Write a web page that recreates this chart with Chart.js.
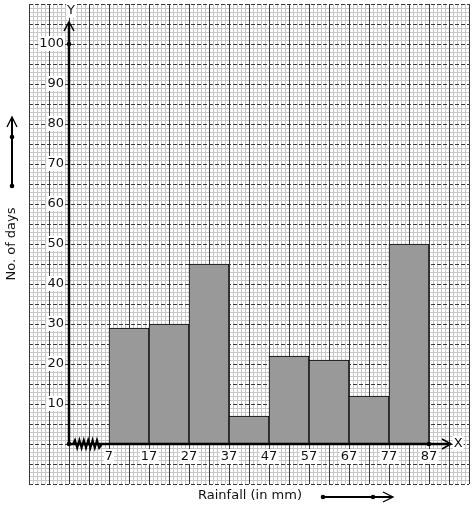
<!DOCTYPE html>
<html>
<head>
<meta charset="utf-8">
<script src="https://cdn.jsdelivr.net/npm/chart.js@4.4.0/dist/chart.umd.min.js"></script>
<style>
  html, body { margin: 0; padding: 0; background: #fff; }
  canvas { display: block; }
</style>
</head>
<body>
<canvas id="histo" width="474" height="510"></canvas>
<script>
// rainfall classes (lower limits) and number of days
const classStarts = [7, 17, 27, 37, 47, 57, 67, 77];
const classWidth = 10;
const days = [29, 30, 45, 7, 22, 21, 12, 50];
const xTickLabels = ['7', '17', '27', '37', '47', '57', '67', '77', '87'];
const yTickLabels = ['10', '20', '30', '40', '50', '60', '70', '80', '90', '100'];
const xTitle = 'Rainfall (in mm)';
const yTitle = 'No. of days';

const breakGap = 10; // axis units between origin and first class (kink)
const FONT = '13px "DejaVu Sans", sans-serif';

// rainfall value -> position on the axis after the break
function xpos(v){
    return v - classStarts[0] + breakGap;
}

const barData = classStarts.map((s, i) => {
    return { x: xpos(s + classWidth / 2), y: days[i] };
});

function labelBox(ctx, text, x, y, align){
    ctx.font = FONT;
    const w = ctx.measureText(text).width;
    let left = x - w / 2;
    if(align === 'right') left = x - w;
    ctx.fillStyle = '#fff';
    ctx.fillRect(left - 1, y - 8, w + 2, 15);
    ctx.fillStyle = '#111';
    ctx.textAlign = 'left';
    ctx.textBaseline = 'middle';
    ctx.fillText(text, left, y);
}

function dot(ctx, x, y){
    ctx.beginPath();
    ctx.arc(x, y, 2.3, 0, Math.PI * 2);
    ctx.fill();
}

const graphPaper = {
    id: 'graphPaper',
    beforeDatasetsDraw(chart){
        const ctx = chart.ctx;
        const xs = chart.scales.x, ys = chart.scales.y;
        const a = chart.chartArea;
        ctx.save();
        // minor lines
        ctx.strokeStyle = '#c8c8c8';
        ctx.lineWidth = 1;
        ctx.beginPath();
        for(let v = xs.min; v <= xs.max; v++){
            if(v % 5 === 0) continue;
            const px = Math.round(xs.getPixelForValue(v)) + 0.5;
            ctx.moveTo(px, a.top); ctx.lineTo(px, a.bottom);
        }
        for(let v = ys.min; v <= ys.max; v++){
            if(v % 5 === 0) continue;
            const py = Math.round(ys.getPixelForValue(v)) + 0.5;
            ctx.moveTo(a.left, py); ctx.lineTo(a.right, py);
        }
        ctx.stroke();
        // major vertical (solid)
        ctx.strokeStyle = '#3a3a3a';
        ctx.beginPath();
        for(let v = xs.min; v <= xs.max; v += 5){
            const px = Math.round(xs.getPixelForValue(v)) + 0.5;
            ctx.moveTo(px, a.top); ctx.lineTo(px, a.bottom);
        }
        ctx.stroke();
        // major horizontal (dashed)
        ctx.setLineDash([4, 2]);
        ctx.beginPath();
        for(let v = ys.min; v <= ys.max; v += 5){
            const py = Math.round(ys.getPixelForValue(v)) + 0.5;
            ctx.moveTo(a.left, py); ctx.lineTo(a.right, py);
        }
        ctx.stroke();
        ctx.restore();
    },
    afterDatasetsDraw(chart){
        const ctx = chart.ctx;
        const xs = chart.scales.x, ys = chart.scales.y;
        const ox = xs.getPixelForValue(0), oy = ys.getPixelForValue(0);
        ctx.save();
        ctx.strokeStyle = '#000';
        ctx.fillStyle = '#000';
        ctx.lineWidth = 2.5;
        // x axis with arrow
        const xEnd = xs.getPixelForValue(95.5);
        ctx.beginPath();
        ctx.moveTo(ox, oy); ctx.lineTo(xEnd, oy);
        ctx.stroke();
        ctx.lineWidth = 1.5;
        ctx.beginPath();
        ctx.moveTo(xEnd - 9, oy - 5); ctx.lineTo(xEnd, oy); ctx.lineTo(xEnd - 9, oy + 5);
        ctx.stroke();
        // y axis with arrow
        const yEnd = ys.getPixelForValue(105.5);
        ctx.lineWidth = 2.5;
        ctx.beginPath();
        ctx.moveTo(ox, oy); ctx.lineTo(ox, yEnd);
        ctx.stroke();
        ctx.lineWidth = 1.5;
        ctx.beginPath();
        ctx.moveTo(ox - 5, yEnd + 9); ctx.lineTo(ox, yEnd); ctx.lineTo(ox + 5, yEnd + 9);
        ctx.stroke();
        // dots
        dot(ctx, ox, oy);
        dot(ctx, xs.getPixelForValue(xpos(87)), oy);
        dot(ctx, ox, ys.getPixelForValue(100));
        // kink / break mark
        ctx.lineWidth = 2;
        ctx.beginPath();
        const k0 = ox + 4, k1 = xs.getPixelForValue(breakGap) - 9;
        ctx.moveTo(k0, oy);
        let up = true;
        for(let px = k0 + 2; px <= k1; px += 2.2){
            ctx.lineTo(px, oy + (up ? -4 : 4));
            up = !up;
        }
        ctx.lineTo(k1 + 2, oy);
        ctx.stroke();
        // x tick labels
        xTickLabels.forEach(t => {
            labelBox(ctx, t, xs.getPixelForValue(xpos(+t)), oy + 13, 'center');
        });
        // y tick labels
        yTickLabels.forEach(t => {
            labelBox(ctx, t, ox - 5, ys.getPixelForValue(+t), 'right');
        });
        // axis letters
        labelBox(ctx, 'Y', ox + 2, ys.getPixelForValue(108.3), 'center');
        labelBox(ctx, 'X', xs.getPixelForValue(97.3), oy, 'center');

        // axis titles with arrows
        ctx.fillStyle = '#111';
        ctx.font = FONT;
        ctx.textAlign = 'center';
        ctx.textBaseline = 'middle';
        ctx.fillText(xTitle, 250, 496);
        ctx.save();
        ctx.translate(12, 244);
        ctx.rotate(-Math.PI / 2);
        ctx.fillText(yTitle, 0, 0);
        ctx.restore();

        ctx.strokeStyle = '#000';
        ctx.fillStyle = '#000';
        ctx.lineWidth = 2;
        ctx.beginPath();
        ctx.moveTo(323, 497); ctx.lineTo(392, 497);
        ctx.stroke();
        ctx.lineWidth = 1.3;
        ctx.beginPath();
        ctx.moveTo(383, 492); ctx.lineTo(393, 497); ctx.lineTo(383, 502);
        ctx.stroke();
        dot(ctx, 323, 497); dot(ctx, 373, 497);

        ctx.lineWidth = 2;
        ctx.beginPath();
        ctx.moveTo(12, 186); ctx.lineTo(12, 118);
        ctx.stroke();
        ctx.lineWidth = 1.3;
        ctx.beginPath();
        ctx.moveTo(7, 127); ctx.lineTo(12, 117); ctx.lineTo(17, 127);
        ctx.stroke();
        dot(ctx, 12, 186); dot(ctx, 12, 137);
        ctx.restore();
    }
};

const chart = new Chart(document.getElementById('histo'), {
    type: 'bar',
    data: {
        datasets: [{
            data: barData,
            backgroundColor: '#999999',
            borderColor: '#000',
            borderWidth: 1,
            barPercentage: 1,
            categoryPercentage: 1
        }]
    },
    options: {
        responsive: false,
        animation: false,
        events: [],
        layout: { padding: { left: 29, top: 4, right: 5, bottom: 26 } },
        plugins: { legend: { display: false }, tooltip: { enabled: false } },
        scales: {
            x: { type: 'linear', min: -10, max: 100, offset: false, display: false,
                 grid: { offset: false }, ticks: { stepSize: 10 } },
            y: { type: 'linear', min: -10, max: 110, display: false, ticks: { stepSize: 10 } }
        }
    },
    plugins: [graphPaper]
});
</script>
</body>
</html>
